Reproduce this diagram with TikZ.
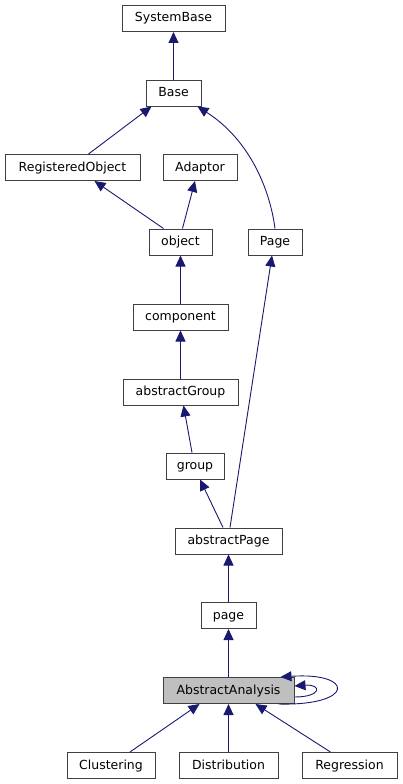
\documentclass[tikz,border=0pt]{standalone}
\usepackage{fontspec}
\setmainfont{DejaVu Sans}
\usetikzlibrary{arrows.meta}
\definecolor{edgeblue}{HTML}{191970}
\definecolor{boxgray}{HTML}{BFBFBF}
\begin{document}
\begin{tikzpicture}[
  x=1pt, y=-1pt,
  cls/.style = {draw=black!75, line width=1pt, fill=white, minimum height=26pt,
                inner sep=0pt, text height=9.5pt, text depth=2.5pt,
                font=\fontsize{12.5}{14}\selectfont},
  inh/.style = {{Triangle[length=11pt, width=10pt]}-, draw=edgeblue,
                line width=0.9pt}]
  \useasboundingbox (0,0) rectangle (403,784);

  % klassen
  \node[cls, minimum width=103pt] (sysbase) at (173.5,18.5) {SystemBase};
  \node[cls, minimum width=55pt] (base) at (173.5,93) {Base};
  \node[cls, minimum width=135pt] (regobj) at (72.5,167.5) {RegisteredObject};
  \node[cls, minimum width=74pt] (adaptor) at (200,167.5) {Adaptor};
  \node[cls, minimum width=63pt] (object) at (180.5,242) {object};
  \node[cls, minimum width=54pt] (Page) at (275,242) {Page};
  \node[cls, minimum width=95pt] (component) at (180.5,317) {component};
  \node[cls, minimum width=115pt] (absgroup) at (180.5,392) {abstractGroup};
  \node[cls, minimum width=58pt] (group) at (195,466) {group};
  \node[cls, minimum width=107pt] (abspage) at (228.5,541) {abstractPage};
  \node[cls, minimum width=55pt] (page) at (228.5,615.5) {page};
  \node[cls, minimum width=131pt, fill=boxgray] (absanal) at (228.5,690.5) {AbstractAnalysis};
  \node[cls, minimum width=88pt] (clustering) at (111,765.5) {Clustering};
  \node[cls, minimum width=99pt] (distribution) at (228.5,765.5) {Distribution};
  \node[cls, minimum width=95pt] (regression) at (349.5,765.5) {Regression};

  % vererbung
  \draw[inh] (sysbase) -- (base);
  \draw[inh] ([xshift=-22pt]base.south) -- ([xshift=16pt]regobj.north);
  \draw[inh] ([xshift=24pt]base.south) .. controls (250,140) and (270,190) .. (Page.north);
  \draw[inh] ([xshift=22pt]regobj.south) -- ([xshift=-17pt]object.north);
  \draw[inh] ([xshift=-5pt]adaptor.south) -- ([xshift=2pt]object.north);
  \draw[inh] (object) -- (component);
  \draw[inh] (component) -- (absgroup);
  \draw[inh] ([xshift=3pt]absgroup.south) -- ([xshift=-3pt]group.north);
  \draw[inh] ([xshift=5pt]group.south) -- ([xshift=-5.5pt]abspage.north);
  \draw[inh] ([xshift=-3pt]Page.south) -- ([xshift=1.5pt]abspage.north);
  \draw[inh] (abspage) -- (page);
  \draw[inh] (page) -- (absanal);

  % selbstbezug
  \draw[inh] ([yshift=4.5pt]absanal.east) .. controls (322,684) and (322,697) .. ([yshift=-6.5pt]absanal.east);
  \draw[inh] ([xshift=-14pt]absanal.north east) .. controls (355,672) and (355,706) .. ([xshift=-16pt]absanal.south east);

  \draw[inh] ([xshift=-29pt]absanal.south) -- ([xshift=19pt]clustering.north);
  \draw[inh] (absanal) -- (distribution);
  \draw[inh] ([xshift=27pt]absanal.south) -- ([xshift=-19pt]regression.north);
\end{tikzpicture}
\end{document}
